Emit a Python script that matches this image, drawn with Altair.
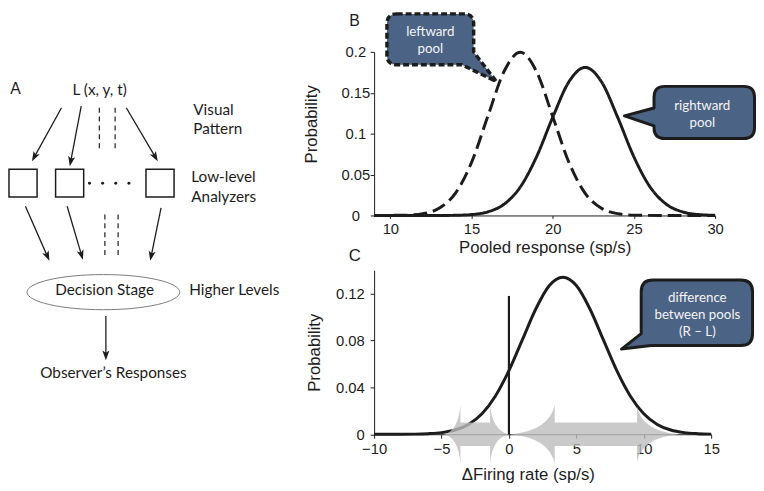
import math
import altair as alt
import pandas as pd

# ---------------- data ----------------
# Panel B: pooled responses (sp/s) and probabilities
b_rate = list(range(9, 31))
b_left_pool = [0.0, 0.0001, 0.0004, 0.0022, 0.0088, 0.027, 0.0648, 0.121, 0.176, 0.1995,
               0.176, 0.121, 0.0648, 0.027, 0.0088, 0.0022, 0.0004, 0.0001, 0.0, 0.0, 0.0, 0.0]
b_right_pool = [0.0, 0.0, 0.0, 0.0, 0.0, 0.0002, 0.0011, 0.0044, 0.0137, 0.0347, 0.0716,
                0.120, 0.1635, 0.181, 0.1635, 0.120, 0.0716, 0.0347, 0.0137, 0.0044, 0.0011, 0.0002]
b_xticks = [10, 15, 20, 25, 30]
b_yticks = [0, 0.05, 0.1, 0.15, 0.2]

# Panel C: difference between pools
c_rate = list(range(-10, 16))
c_difference = [0.0, 0.0, 0.0, 0.0001, 0.0005, 0.0014, 0.0036, 0.0084, 0.0175, 0.0327, 0.0543,
                0.0807, 0.1071, 0.1269, 0.134, 0.1269, 0.1071, 0.0807, 0.0543, 0.0327, 0.0175,
                0.0084, 0.0036, 0.0014, 0.0005, 0.0001]
c_xticks = [-10, -5, 0, 5, 10, 15]
c_yticks = [0, 0.02, 0.04, 0.06, 0.08, 0.1, 0.12, 0.14]
c_criterion_x = 0
c_criterion_top = 0.118
# gray double arrows: tip_left, base_left, base_right, tip_right (sp/s)
c_arrow_left = [-4.8, -3.6, -1.4, 0.0]
c_arrow_right = [0.1, 3.4, 9.5, 12.6]

# Panel A diagram (positions of the schematic's nodes)
a_box_left = [5, 52.3, 144]
a_box_top, a_box_bottom, a_box_w = 169, 197.3, 28.5
a_arrow_x1 = [58.3, 78.3, 124, 21.7, 64, 159.3, 103.3]
a_arrow_y1 = [106.7, 105, 106.7, 206.7, 206.7, 208.3, 318]
a_arrow_x2 = [28.3, 66.7, 156, 46, 80, 148.3, 103.3]
a_arrow_y2 = [161, 166, 161, 262, 261, 262, 363]
a_dash_x = [96.7, 112.7, 102.3, 115.7]
a_dash_y1 = [106.7, 106.7, 215, 215]
a_dash_y2 = [148.3, 148.3, 258, 258]
a_dots_x = [86.7, 100, 113.3, 126.7]
a_dots_y = 183.3
a_ellipse = (100.8, 293.8, 77.5)
a_panel_label = ("A", 11.5, 87.5)
a_center_text = ["L (x, y, t)", "Decision Stage", "Observer\u2019s Responses"]
a_center_x = [97, 102, 111]
a_center_y = [89, 292, 376]
a_left_text = ["Visual", "Pattern", "Low-level", "Analyzers", "Higher Levels"]
a_left_x = [192, 192, 190, 190, 188]
a_left_y = [109, 128, 177, 197, 292]

# ---------------- style / layout ----------------
SANS = "Liberation Sans"
HUM = "Lato"
INK = "#1c1c1c"
BLUE = "#4b6385"
A_W, A_H = 290, 430
A_X0, A_Y0 = 5, 50
B_W, B_H = 346, 166
C_W, C_H = 342, 166.5
B_LEFT, B_TOP = 374, 50
C_LEFT, C_TOP = 374, 268.5

one = pd.DataFrame({"k": [0]})

# ---------------- Panel A ----------------
axs = alt.Scale(domain=[A_X0, A_X0 + A_W], nice=False, zero=False)
ays = alt.Scale(domain=[A_Y0, A_Y0 + A_H], nice=False, zero=False, reverse=True)


def AX(f):
    return alt.X(f, scale=axs, axis=None)


def AY(f):
    return alt.Y(f, scale=ays, axis=None)


seg_rows, head_rows = [], []
for i, (x1, y1, x2, y2) in enumerate(zip(a_arrow_x1, a_arrow_y1, a_arrow_x2, a_arrow_y2)):
    dx, dy = x2 - x1, y2 - y1
    ln = math.hypot(dx, dy)
    ux, uy = dx / ln, dy / ln
    seg_rows.append({"seg": i, "o": 0, "x": x1, "y": y1})
    seg_rows.append({"seg": i, "o": 1, "x": x2 - ux * 6, "y": y2 - uy * 6})
    head_rows.append({"x": x2, "y": y2, "ang": math.degrees(math.atan2(dx, -dy)) % 360})
segs = pd.DataFrame(seg_rows)
heads = pd.DataFrame(head_rows)

dash_rows = []
for i, (x, ya, yb) in enumerate(zip(a_dash_x, a_dash_y1, a_dash_y2)):
    dash_rows += [{"seg": i, "o": 0, "x": x, "y": ya}, {"seg": i, "o": 1, "x": x, "y": yb}]
dashes = pd.DataFrame(dash_rows)

boxes = pd.DataFrame({"x": a_box_left, "x2": [v + a_box_w for v in a_box_left],
                      "y": [a_box_top] * 3, "y2": [a_box_bottom] * 3})
dots = pd.DataFrame({"x": a_dots_x, "y": [a_dots_y] * len(a_dots_x)})
ell = pd.DataFrame({"x": [a_ellipse[0]], "y": [a_ellipse[1]]})
plabel = pd.DataFrame({"t": [a_panel_label[0]], "x": [a_panel_label[1]], "y": [a_panel_label[2]]})
ctext = pd.DataFrame({"t": a_center_text, "x": a_center_x, "y": a_center_y})
ltext = pd.DataFrame({"t": a_left_text, "x": a_left_x, "y": a_left_y})

HEAD = "M0,0 L0.45,1.25 L0,0.95 L-0.45,1.25 Z"
ELLIPSE = ("M1,0 C1,0.127 0.5523,0.23 0,0.23 C-0.5523,0.23 -1,0.127 -1,0 "
           "C-1,-0.127 -0.5523,-0.23 0,-0.23 C0.5523,-0.23 1,-0.127 1,0 Z")

a_lines = alt.Chart(segs).mark_line(color=INK, strokeWidth=1.3).encode(
    x=AX("x:Q"), y=AY("y:Q"), detail="seg:N", order="o:Q")
a_dash = alt.Chart(dashes).mark_line(color=INK, strokeWidth=1.2, strokeDash=[5, 4]).encode(
    x=AX("x:Q"), y=AY("y:Q"), detail="seg:N", order="o:Q")
a_heads = alt.Chart(heads).mark_point(shape=HEAD, size=256, filled=True, color=INK, opacity=1).encode(
    x=AX("x:Q"), y=AY("y:Q"), angle=alt.Angle("ang:Q", scale=None))
a_boxes = alt.Chart(boxes).mark_rect(fillOpacity=0, stroke=INK, strokeWidth=1.5).encode(
    x=AX("x:Q"), x2="x2:Q", y=AY("y:Q"), y2="y2:Q")
a_dots = alt.Chart(dots).mark_circle(size=9, color=INK, opacity=1).encode(x=AX("x:Q"), y=AY("y:Q"))
a_ell = alt.Chart(ell).mark_point(shape=ELLIPSE, size=(2 * a_ellipse[2]) ** 2, filled=False,
                                  stroke="#7a7a7a", strokeWidth=1, opacity=1).encode(
    x=AX("x:Q"), y=AY("y:Q"))
a_plabel = alt.Chart(plabel).mark_text(align="center", baseline="middle", color=INK, font=SANS,
                                       fontSize=16).encode(x=AX("x:Q"), y=AY("y:Q"), text="t:N")
a_ctext = alt.Chart(ctext).mark_text(align="center", baseline="middle", color=INK, font=HUM,
                                     fontSize=15.5).encode(x=AX("x:Q"), y=AY("y:Q"), text="t:N")
a_ltext = alt.Chart(ltext).mark_text(align="left", baseline="middle", color=INK, font=HUM,
                                     fontSize=15.5).encode(x=AX("x:Q"), y=AY("y:Q"), text="t:N")

panel_a = alt.layer(a_lines, a_dash, a_heads, a_boxes, a_dots, a_ell, a_plabel, a_ctext,
                    a_ltext).properties(width=A_W, height=A_H)


# ---------------- helpers for call-outs ----------------
def rel_path(cmds, ax, ay):
    out = []
    for cmd, pts in cmds:
        coords = [f"{pts[i] - ax:.1f},{pts[i + 1] - ay:.1f}" for i in range(0, len(pts), 2)]
        out.append(cmd + " ".join(coords))
    return " ".join(out) + " Z"


def callout_layer(cmds, ax, ay, left, top, dash=None, sw=3):
    path = rel_path(cmds, ax, ay)
    kw = dict(shape=path, size=4, filled=True, fill=BLUE, stroke=INK, strokeWidth=sw, opacity=1,
              strokeJoin="round")
    if dash:
        kw["strokeDash"] = dash
    return alt.Chart(one).mark_point(**kw).encode(x=alt.value(ax - left), y=alt.value(ay - top))


def text_layer(t, px, py, left, top, size=13.5, color="#f4f4f4", font=HUM, baseline="middle"):
    return alt.Chart(one).mark_text(text=t, font=font, fontSize=size, color=color,
                                    align="center", baseline=baseline).encode(
        x=alt.value(px - left), y=alt.value(py - top))


def box_cmds(L, R, T, B, r, middle):
    return ([("M", [L + r, T]), ("L", [R - r, T]), ("Q", [R, T, R, T + r])] + middle +
            [("L", [L, T + r]), ("Q", [L, T, L + r, T])])


# ---------------- Panel B ----------------
b_df = pd.DataFrame({"rate": b_rate, "leftward": b_left_pool, "rightward": b_right_pool})
b_lines = alt.Chart(b_df).transform_fold(["leftward", "rightward"], as_=["pool", "p"]).mark_line(
    color=INK, strokeWidth=3, interpolate="monotone").encode(
    x=alt.X("rate:Q", scale=alt.Scale(domain=[9, 30], nice=False, zero=False),
            axis=alt.Axis(values=b_xticks, title="Pooled response (sp/s)", tickSize=3,
                          labelPadding=3, titlePadding=4)),
    y=alt.Y("p:Q", scale=alt.Scale(domain=[0, 0.2], nice=False),
            axis=alt.Axis(values=b_yticks, format="~g", title="Probability", labelAlign="center",
                          labelPadding=15, titleY=73, titlePadding=21)),
    strokeDash=alt.StrokeDash("pool:N", scale=alt.Scale(domain=["leftward", "rightward"],
                                                        range=[[14, 6], [1, 0]]), legend=None),
    detail="pool:N")

L, R, T, B, r = 387, 475, 11.5, 63, 10
left_cmds = box_cmds(L, R, T, B, r, [("L", [R, 50]), ("L", [498, 80]), ("L", [463, B]),
                                     ("L", [L + r, B]), ("Q", [L, B, L, B - r])])
b_call1 = callout_layer(left_cmds, (L + R) / 2, (T + B) / 2, B_LEFT, B_TOP, dash=[6, 3], sw=3.5)
L2, R2, T2, B2, r2 = 658, 760, 85, 138, 11
right_cmds = box_cmds(L2, R2, T2, B2, r2, [("L", [R2, B2 - r2]), ("Q", [R2, B2, R2 - r2, B2]),
                                           ("L", [L2 + r2, B2]), ("Q", [L2, B2, L2, B2 - r2]),
                                           ("L", [L2, 125]), ("L", [628, 115]), ("L", [L2, 107])])
b_call2 = callout_layer(right_cmds, (L2 + R2) / 2, (T2 + B2) / 2, B_LEFT, B_TOP)

panel_b = alt.layer(
    b_lines, b_call1, b_call2,
    text_layer("leftward", 431, 30, B_LEFT, B_TOP), text_layer("pool", 431, 47, B_LEFT, B_TOP),
    text_layer("rightward", 707, 105, B_LEFT, B_TOP), text_layer("pool", 707, 122, B_LEFT, B_TOP),
    text_layer("B", 354, 10.3, B_LEFT, B_TOP, size=16, color=INK, font=SANS, baseline="top"),
    text_layer("C", 354.5, 262, B_LEFT, B_TOP, size=17, color=INK, font=SANS, baseline="alphabetic"),
).properties(width=B_W, height=B_H)

# ---------------- Panel C ----------------
c_df = pd.DataFrame({"rate": c_rate, "p": c_difference})
c_line = alt.Chart(c_df).mark_line(color=INK, strokeWidth=3, interpolate="monotone").encode(
    x=alt.X("rate:Q", scale=alt.Scale(domain=[-10, 15], nice=False, zero=False),
            axis=alt.Axis(values=c_xticks, title="\u0394Firing rate (sp/s)", titleX=156,
                          labelPadding=4, titlePadding=10)),
    y=alt.Y("p:Q", scale=alt.Scale(domain=[0, 0.14], nice=False),
            axis=alt.Axis(values=c_yticks, title="Probability", labelPadding=6, titlePadding=12,
                          labelExpr="round(datum.value*100) % 4 == 0 ? format(datum.value, '~g') : ''")))

pxu = C_W / 25.0


def arrow_layer(spec, hh_left, hh_right, sh=12):
    tipL, baseL, baseR, tipR = spec
    c = (tipL + tipR) / 2
    tl, bl, br, tr = [(v - c) * pxu for v in (tipL, baseL, baseR, tipR)]
    c1 = bl - 0.12 * (bl - tl)
    c2 = br + 0.12 * (tr - br)
    p = (f"M{tl:.1f},0 Q{c1:.1f},{-0.12 * hh_left:.1f} {bl:.1f},{-hh_left} L{bl:.1f},{-sh} "
         f"L{br:.1f},{-sh} L{br:.1f},{-hh_right} Q{c2:.1f},{-0.12 * hh_right:.1f} {tr:.1f},0 "
         f"Q{c2:.1f},{0.12 * hh_right:.1f} {br:.1f},{hh_right} L{br:.1f},{sh} L{bl:.1f},{sh} "
         f"L{bl:.1f},{hh_left} Q{c1:.1f},{0.12 * hh_left:.1f} {tl:.1f},0 Z")
    return alt.Chart(one).mark_point(shape=p, size=4, filled=True, fill="#bdbdbd", opacity=0.8,
                                     strokeWidth=0).encode(x=alt.datum(c), y=alt.datum(0))


c_arrows = [arrow_layer(c_arrow_left, 30, 30), arrow_layer(c_arrow_right, 30, 28)]
c_rule = alt.Chart(one).mark_rule(color=INK, strokeWidth=2.2).encode(
    x=alt.datum(c_criterion_x), y=alt.datum(0), y2=alt.datum(c_criterion_top))

L3, R3, T3, B3, r3 = 645, 758, 278.5, 345, 12
diff_cmds = box_cmds(L3, R3, T3, B3, r3, [("L", [R3, B3 - r3]), ("Q", [R3, B3, R3 - r3, B3]),
                                          ("L", [655, B3]), ("L", [625, 348.5]), ("L", [L3, 333])])
c_call = callout_layer(diff_cmds, (L3 + R3) / 2, (T3 + B3) / 2, C_LEFT, C_TOP)

panel_c = alt.layer(
    c_line, *c_arrows, c_rule, c_call,
    text_layer("difference", 702, 297.3, C_LEFT, C_TOP),
    text_layer("between pools", 702, 314.3, C_LEFT, C_TOP),
    text_layer("(R \u2013 L)", 702, 331, C_LEFT, C_TOP),
).properties(width=C_W, height=C_H)

right_col = alt.vconcat(panel_b, panel_c, spacing=6.5)
chart = alt.hconcat(panel_a, right_col, spacing=7.5, padding=0).configure_view(stroke=None).configure_axis(
    labelFont=SANS, titleFont=SANS, labelFontSize=15, titleFontSize=17, titleFontWeight="normal",
    labelColor=INK, titleColor=INK, domainColor=INK, tickColor=INK, domainWidth=1, tickWidth=1,
    grid=False, tickSize=4, labelFlush=False, labelOverlap=False)

chart.save("out.html", embed_options={"renderer": "svg", "actions": False})
